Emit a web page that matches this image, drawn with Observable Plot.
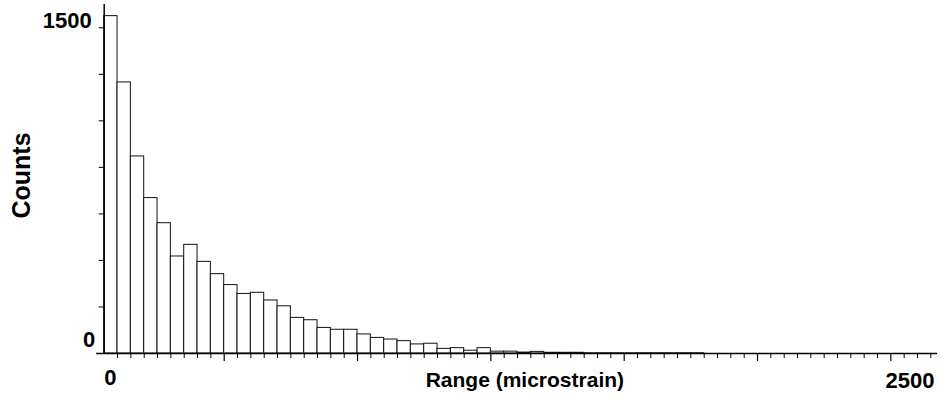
<!DOCTYPE html>
<html>
<head>
<meta charset="utf-8">
<script src="https://cdn.jsdelivr.net/npm/d3@7"></script>
<script src="https://cdn.jsdelivr.net/npm/@observablehq/plot@0.6"></script>
<style>
  html, body { margin: 0; padding: 0; background: #ffffff; }
</style>
</head>
<body>
<div id="chart"></div>
<script>
// Histogram bins: width 40 microstrain starting at 0
const binWidth = 40;
const counts = [1450, 1165, 847, 668, 560, 417, 467, 394, 341, 294,
                256, 261, 228, 203, 153, 143, 110, 102, 102, 82,
                67, 60, 53, 39, 42, 20, 23, 12, 23, 8,
                8, 4, 7, 3, 3, 3, 1, 1, 1, 1, 1, 1, 1, 1, 1];
const bins = counts.map((c, i) => ({x1: i * binWidth, x2: (i + 1) * binWidth, count: c}));

const majorTicks = [360, 760, 1160, 1560, 1960, 2360];
const minorTicks = d3.range(40, 2500, 40).filter(t => !majorTicks.includes(t));
const yTicks = [200, 400, 600, 800, 1000, 1200, 1400];
const xLabelLeft = [0];
const xLabelRight = [2500];
const yLabelTop = [1500];
const yLabelBottom = [0];
const xTitle = "Range (microstrain)";
const yTitle = "Counts";

const font = "'Liberation Sans', Arial, Helvetica, sans-serif";

const chart = Plot.plot({
  width: 941,
  height: 400,
  marginLeft: 103.7,
  marginRight: 4,
  marginTop: 4,
  marginBottom: 47,
  style: {fontFamily: font, background: "#ffffff", color: "#000"},
  x: {domain: [0, 2500]},
  y: {domain: [0, 1500]},
  marks: [
    Plot.rectY(bins, {x1: "x1", x2: "x2", y: "count", fill: "white", stroke: "#111", strokeWidth: 1}),
    Plot.axisX(minorTicks, {tickSize: 5, tickFormat: () => "", label: null, stroke: "#000", strokeWidth: 1}),
    Plot.axisX(majorTicks, {tickSize: 8, tickFormat: () => "", label: null, stroke: "#000", strokeWidth: 1.2}),
    Plot.axisY(yTicks, {tickSize: 5, tickFormat: () => "", label: null, stroke: "#000", strokeWidth: 1}),
    Plot.ruleY([0], {insetLeft: -7.5, stroke: "#000", strokeWidth: 1.5}),
    Plot.ruleX([0], {stroke: "#000", strokeWidth: 1.5}),
    Plot.text(yLabelTop, {y: d => d, text: d => String(d), frameAnchor: "left", textAnchor: "end", lineAnchor: "top",
      dx: -12.5, dy: 7.5, fontSize: 22, fontWeight: "bold", fill: "#000"}),
    Plot.text(yLabelBottom, {y: d => d, text: d => String(d), frameAnchor: "left", textAnchor: "end", lineAnchor: "bottom",
      dx: -9, dy: -6.5, fontSize: 22, fontWeight: "bold", fill: "#000"}),
    Plot.text(xLabelLeft, {x: d => d, text: d => String(d), frameAnchor: "bottom", textAnchor: "start", lineAnchor: "bottom",
      dy: 31, fontSize: 22, fontWeight: "bold", fill: "#000"}),
    Plot.text(xLabelRight, {x: d => d, text: d => String(d), frameAnchor: "bottom", textAnchor: "end", lineAnchor: "bottom",
      dx: -3, dy: 34, fontSize: 22, fontWeight: "bold", fill: "#000"}),
    Plot.text([xTitle], {text: d => d, frameAnchor: "bottom", textAnchor: "middle", lineAnchor: "bottom", dx: 4, dy: 33,
      fontSize: 21, fontWeight: "bold", fill: "#000"}),
    Plot.text([yTitle], {text: d => d, frameAnchor: "left", textAnchor: "middle", rotate: -90, lineAnchor: "middle", dx: -82, dy: -3.5,
      fontSize: 25, fontWeight: "bold", fill: "#000"})
  ]
});
document.getElementById("chart").appendChild(chart);
</script>
</body>
</html>
